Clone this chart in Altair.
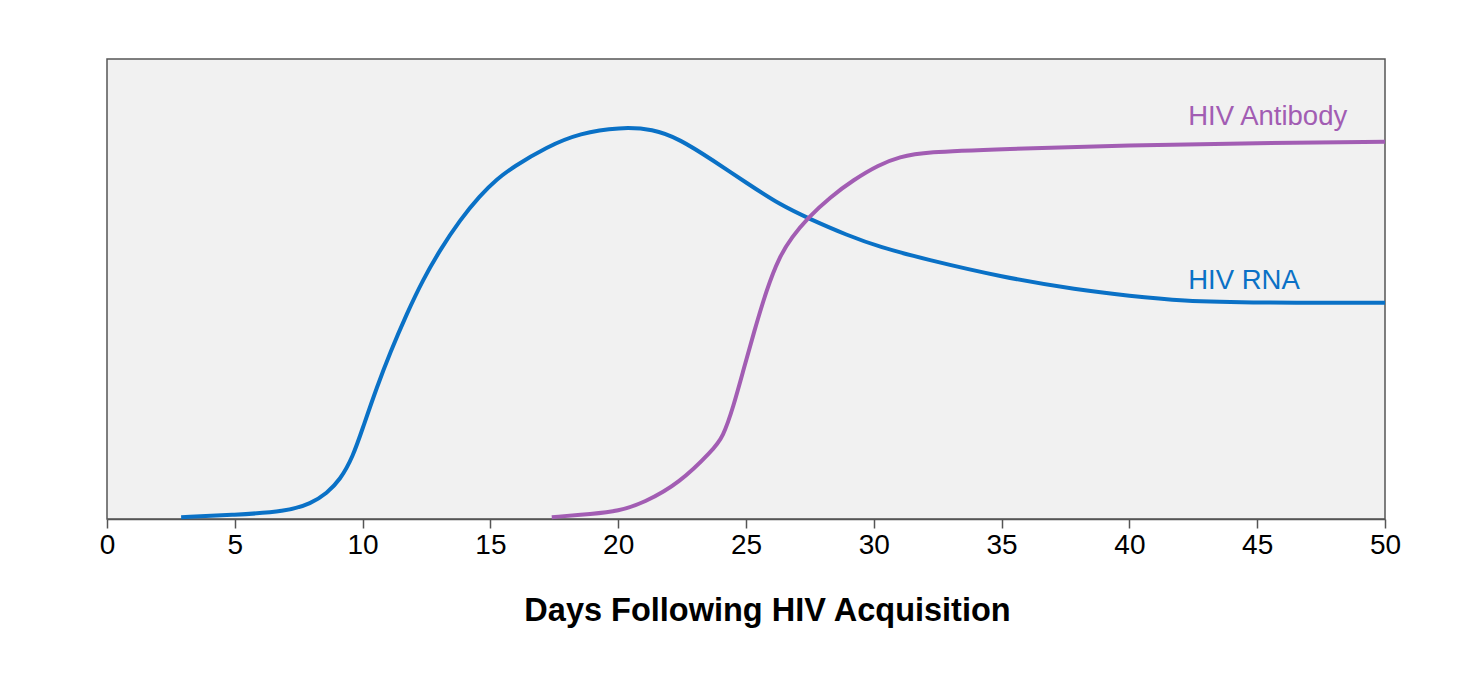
import altair as alt
import pandas as pd

# HIV RNA curve (day, relative level 0-100)
rna_days = [2.9, 5, 7, 8.0, 8.6, 9.12, 9.62, 10.02, 10.56, 11.07, 11.74, 12.36, 13.03, 13.81, 14.59,
            15.26, 15.88, 17.2, 18.5, 20.07, 21.36, 22.4, 23.7, 25.04, 26.33, 27.5, 28.95, 30.24, 32, 35, 38, 40, 42, 45, 50]
rna_vals = [0.4, 0.9, 1.6, 3.4, 5.6, 8.5, 13.5, 20.0, 28.7, 36.1, 44.8, 52.0, 58.5, 65.0, 70.3,
            73.9, 76.5, 80.9, 83.9, 85.2, 84.8, 82.6, 78.0, 73.0, 68.3, 65.2, 61.7, 59.1, 56.5, 52.6, 49.8, 48.5, 47.4, 47.0, 47.0]

# HIV Antibody curve
ab_days = [17.4, 19, 20, 21, 22.4, 23.7, 24.1, 24.5, 24.9, 25.3, 25.8, 26.3, 26.8, 27.4, 28.3, 29.2, 30.2, 31, 32, 35, 40, 45, 50]
ab_vals = [0.4, 1.1, 1.7, 3.5, 7.8, 15.0, 17.8, 24.3, 32.4, 40.4, 49.8, 57.0, 61.3, 65.4, 70.0, 73.7, 77.0, 78.7, 79.8, 80.4, 81.3, 81.7, 82.0]

series_names = ["HIV RNA", "HIV Antibody"]
series_colors = ["#0a71c6", "#a25db3"]

label_text = ["HIV Antibody", "HIV RNA"]
label_day = [42.3, 42.3]
label_val = [87.4, 51.7]
label_series = ["HIV Antibody", "HIV RNA"]

df = pd.concat([
    pd.DataFrame({"day": rna_days, "val": rna_vals, "series": series_names[0]}),
    pd.DataFrame({"day": ab_days, "val": ab_vals, "series": series_names[1]}),
])
lab = pd.DataFrame({"day": label_day, "val": label_val, "text": label_text, "series": label_series})

xs = alt.Scale(domain=[0, 50], nice=False)
ys = alt.Scale(domain=[0, 100], nice=False)
cs = alt.Scale(domain=series_names, range=series_colors)

lines = alt.Chart(df).mark_line(strokeWidth=4, interpolate="basis").encode(
    x=alt.X("day:Q", scale=xs, title="Days Following HIV Acquisition",
            axis=alt.Axis(values=list(range(0, 51, 5)), grid=False, tickSize=9,
                          tickColor="#555555", domainColor="#555555", domainWidth=1.5,
                          tickWidth=1.5, labelFontSize=28, labelColor="#000000",
                          labelFont="Liberation Sans", labelPadding=3, labelFlush=False,
                          titleFont="Liberation Sans", titleFontSize=32.5,
                          titleFontWeight="bold", titleColor="#000000", titlePadding=35,
                          titleX=660, titleAlign="center")),
    y=alt.Y("val:Q", scale=ys, axis=None),
    color=alt.Color("series:N", scale=cs, legend=None),
    detail="series:N",
)

texts = alt.Chart(lab).mark_text(align="left", baseline="middle", fontSize=27.5,
                                 font="Liberation Sans").encode(
    x=alt.X("day:Q", scale=xs),
    y=alt.Y("val:Q", scale=ys),
    text="text:N",
    color=alt.Color("series:N", scale=cs, legend=None),
)

chart = (lines + texts).properties(
    width=1278, height=460,
    autosize=alt.AutoSizeParams(type="none"),
    padding={"left": 99, "top": 51, "right": 80, "bottom": 140},
    background="white",
).configure_view(fill="#f1f1f1", stroke="#555555", strokeWidth=1.5)

chart.save("out.html", embed_options={"renderer": "svg", "actions": False})
